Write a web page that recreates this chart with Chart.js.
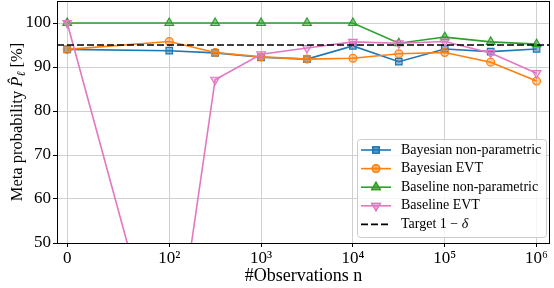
<!DOCTYPE html>
<html>
<head>
<meta charset="utf-8">
<script src="https://cdn.jsdelivr.net/npm/chart.js@4.4.1/dist/chart.umd.min.js"></script>
<style>
  html, body { margin: 0; padding: 0; background: #fff; }
  #wrap { width: 554px; height: 288px; }
</style>
</head>
<body>
<div id="wrap"><canvas id="metaChart"></canvas></div>
<script>
// data
const observations = [0, 100, 316, 1000, 3162, 10000, 31623, 100000, 316228, 1000000];
const bayesNonParam = [94.0, 93.7, 93.2, 92.2, 91.8, 94.8, 91.2, 94.1, 93.5, 94.1];
const bayesEvt = [94.0, 95.8, 93.3, 92.3, 91.8, 92.0, 93.0, 93.3, 91.1, 86.8];
const baselineNonParam = [100, 100, 100, 100, 100, 100, 95.4, 96.8, 95.7, 95.2];
const baselineEvt = [100, 15, 87.1, 92.9, 94.3, 95.7, 95.4, 95.8, 93.2, 88.6];
const targetLevel = 95;
const xTicks = [0, 100, 1000, 10000, 100000, 1000000];
const xTickLabels = ['0', '10²', '10³', '10⁴', '10⁵', '10⁶'];
const yTicks = [50, 60, 70, 80, 90, 100];
const xMin = -10, xMax = 1.4e6;
const yMin = 50, yMax = 105;

const SERIF = '"Liberation Serif", "DejaVu Serif", serif';
const LINTHRESH = 100;

// symmetric log axis like matplotlib's symlog (linear below LINTHRESH)
class SymlogScale extends Chart.LinearScale {
  static id = 'symlog';
  static defaults = {};

  fwd(v) {
    const ls = 1 / (1 - 1 / 10);
    const a = Math.abs(v);
    if (a <= LINTHRESH) return v / LINTHRESH * ls;
    return Math.sign(v) * (ls + Math.log10(a / LINTHRESH));
  }
  inv(t) {
    const ls = 1 / (1 - 1 / 10);
    const a = Math.abs(t);
    if (a <= ls) return t / ls * LINTHRESH;
    return Math.sign(t) * LINTHRESH * Math.pow(10, a - ls);
  }
  buildTicks() {
    return xTicks.map(v => ({ value: v }));
  }
  configure() {
    super.configure();
    this._tLo = this.fwd(this.min);
    this._tHi = this.fwd(this.max);
  }
  getPixelForValue(v) {
    return this.getPixelForDecimal((this.fwd(v) - this._tLo) / (this._tHi - this._tLo));
  }
  getValueForPixel(p) {
    return this.inv(this._tLo + this.getDecimalForPixel(p) * (this._tHi - this._tLo));
  }
}
Chart.register(SymlogScale);

function pts(values) {
  return values.map((v, i) => ({ x: observations[i], y: v }));
}

const series = [
  { label: 'Bayesian non-parametric', data: bayesNonParam, color: '#1f77b4', fill: 'rgba(31,119,180,0.5)', style: 'rect', radius: 4.6, rot: 0, order: 4 },
  { label: 'Bayesian EVT', data: bayesEvt, color: '#ff7f0e', fill: 'rgba(255,127,14,0.4)', style: 'circle', radius: 3.9, rot: 0, order: 3 },
  { label: 'Baseline non-parametric', data: baselineNonParam, color: '#2ca02c', fill: 'rgba(44,160,44,0.5)', style: 'triangle', radius: 5, rot: 0, order: 2 },
  { label: 'Baseline EVT', data: baselineEvt, color: '#e377c2', fill: 'rgba(227,119,194,0.35)', style: 'triangle', radius: 5, rot: 180, order: 1 }
];

const datasets = series.map(s => ({
  label: s.label,
  data: pts(s.data),
  borderColor: s.color,
  backgroundColor: s.fill,
  borderWidth: 1.6,
  pointStyle: s.style,
  pointRadius: s.radius,
  pointRotation: s.rot,
  pointBorderWidth: 1.2,
  pointBorderColor: s.color,
  pointBackgroundColor: s.fill,
  tension: 0,
  order: s.order
}));

datasets.push({
  label: 'Target 1 − δ',
  data: [{ x: xMin, y: targetLevel }, { x: xMax, y: targetLevel }],
  borderColor: '#000',
  borderWidth: 1.7,
  borderDash: [7, 3],
  pointRadius: 0,
  order: 0
});

// frame, y label and legend drawn by hand (mathtext bits)
const decorations = {
  id: 'decorations',
  afterDraw(chart) {
    const ctx = chart.ctx;
    const a = chart.chartArea;
    ctx.save();

    // frame
    ctx.strokeStyle = '#000';
    ctx.lineWidth = 1;
    ctx.strokeRect(a.left + 0.5, a.top + 0.5, a.right - a.left - 1, a.bottom - a.top);

    // y label
    ctx.translate(17, (a.top + a.bottom) / 2);
    ctx.rotate(-Math.PI / 2);
    ctx.fillStyle = '#000';
    ctx.textBaseline = 'alphabetic';
    const fs = 16.5;
    const rom = fs + 'px ' + SERIF;
    const ita = 'italic ' + fs + 'px ' + SERIF;
    const sub = 'italic ' + Math.round(fs * 0.7) + 'px ' + SERIF;
    const parts = [
      { t: 'Meta probability ', f: rom, dy: 0 },
      { t: 'P\u0302', f: ita, dy: 0 },
      { t: 'ℓ', f: sub, dy: 3 },
      { t: ' [%]', f: rom, dy: 0 }
    ];
    let total = 0;
    parts.forEach(p => { ctx.font = p.f; p.w = ctx.measureText(p.t).width; total += p.w; });
    let x = -total / 2;
    parts.forEach(p => { ctx.font = p.f; ctx.fillText(p.t, x, 5 + p.dy); x += p.w; });
    ctx.restore();

    // legend
    ctx.save();
    const bw = 189, bh = 98;
    const bx = a.right - 4 - bw, by = a.bottom - 6 - bh;
    ctx.beginPath();
    ctx.roundRect(bx + 0.5, by + 0.5, bw, bh, 3);
    ctx.fillStyle = 'rgba(255,255,255,0.8)';
    ctx.fill();
    ctx.strokeStyle = '#cccccc';
    ctx.lineWidth = 1;
    ctx.stroke();

    const lfs = 14;
    ctx.textBaseline = 'middle';
    const rowY = i => by + 11 + i * 18.6;
    series.forEach((s, i) => {
      const y = rowY(i);
      ctx.strokeStyle = s.color;
      ctx.lineWidth = 1.6;
      ctx.setLineDash([]);
      ctx.beginPath();
      ctx.moveTo(bx + 4, y);
      ctx.lineTo(bx + 34, y);
      ctx.stroke();
      ctx.fillStyle = s.fill;
      ctx.lineWidth = 1.2;
      Chart.helpers.drawPoint(ctx, { pointStyle: s.style, radius: s.radius, rotation: s.rot, borderWidth: 1.2 }, bx + 19, y);
      ctx.fill();
      ctx.stroke();
      ctx.fillStyle = '#000';
      ctx.font = lfs + 'px ' + SERIF;
      ctx.fillText(s.label, bx + 44, y);
    });
    const ty = rowY(4);
    ctx.strokeStyle = '#000';
    ctx.lineWidth = 1.7;
    ctx.setLineDash([7, 3]);
    ctx.beginPath();
    ctx.moveTo(bx + 4, ty);
    ctx.lineTo(bx + 34, ty);
    ctx.stroke();
    ctx.setLineDash([]);
    ctx.fillStyle = '#000';
    ctx.font = lfs + 'px ' + SERIF;
    ctx.fillText('Target 1 − ', bx + 44, ty);
    const w1 = ctx.measureText('Target 1 − ').width;
    ctx.font = 'italic ' + lfs + 'px ' + SERIF;
    ctx.fillText('δ', bx + 44 + w1, ty);
    ctx.restore();
  }
};

new Chart(document.getElementById('metaChart').getContext('2d'), {
  type: 'line',
  data: { datasets: datasets },
  options: {
    responsive: true,
    maintainAspectRatio: false,
    animation: false,
    events: [],
    layout: { autoPadding: false, padding: { left: 0, right: 4, top: 1, bottom: 0 } },
    plugins: {
      legend: { display: false },
      tooltip: { enabled: false }
    },
    scales: {
      x: {
        type: 'symlog',
        min: xMin,
        max: xMax,
        afterFit: scale => { scale.height = 45; scale.paddingLeft = 0; scale.paddingRight = 0; },
        grid: { color: '#d0d0d0', lineWidth: 1, tickLength: 4, tickColor: '#000', drawOnChartArea: true },
        border: { display: false },
        ticks: {
          color: '#000',
          padding: 1,
          maxRotation: 0,
          autoSkip: false,
          font: { family: SERIF, size: 17 },
          callback: (v, i) => xTickLabels[i]
        },
        title: {
          display: true,
          text: '#Observations n',
          color: '#000',
          font: { family: SERIF, size: 18 },
          padding: { top: 0, bottom: 1 }
        }
      },
      y: {
        min: yMin,
        max: yMax,
        afterBuildTicks: scale => { scale.ticks = yTicks.map(v => ({ value: v })); },
        afterFit: scale => { scale.width = 57; scale.paddingTop = 0; scale.paddingBottom = 0; },
        grid: { color: '#d0d0d0', lineWidth: 1, tickLength: 4, tickColor: '#000' },
        border: { display: false },
        ticks: {
          color: '#000',
          padding: 2,
          font: { family: SERIF, size: 17 }
        }
      }
    }
  },
  plugins: [decorations]
});
</script>
</body>
</html>
